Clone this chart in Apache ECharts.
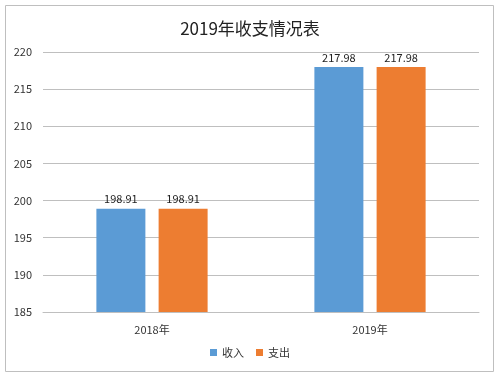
<!DOCTYPE html>
<html>
<head>
<meta charset="utf-8">
<script src="https://cdn.jsdelivr.net/npm/echarts@6/dist/echarts.min.js"></script>
<style>
  html, body { margin: 0; padding: 0; background: #fff; }
  #container { width: 500px; height: 377px; }
</style>
</head>
<body>
<div id="container"></div>
<script>
var dom = document.getElementById('container');
var myChart = echarts.init(dom, null, { renderer: 'canvas' });

const categories = ['2018年', '2019年'];
const income = [198.91, 217.98];
const expense = [198.91, 217.98];
const seriesNames = ['收入', '支出'];

const font = '"Noto Sans CJK SC", "DejaVu Sans", sans-serif';

var option = {
  backgroundColor: '#fff',
  animation: false,
  title: {
    text: '2019年收支情况表',
    left: 'center',
    top: 15,
    textStyle: { fontSize: 17, fontWeight: 'normal', color: '#222', fontFamily: font }
  },
  graphic: [{
    type: 'rect',
    shape: { x: 5.5, y: 5.5, width: 488, height: 366 },
    style: { fill: 'none', stroke: '#bfbfbf', lineWidth: 1 },
    silent: true
  }],
  legend: {
    bottom: 14,
    left: 'center',
    itemWidth: 7,
    itemHeight: 7,
    itemGap: 12,
    icon: 'rect',
    textStyle: { fontSize: 11, color: '#333', fontFamily: font },
    data: seriesNames
  },
  grid: { left: 43, right: 21, top: 52, bottom: 65 },
  xAxis: {
    type: 'category',
    data: categories,
    axisLine: { lineStyle: { color: '#bfbfbf' } },
    axisTick: { show: false },
    axisLabel: { fontSize: 11, color: '#333', margin: 12, fontFamily: font }
  },
  yAxis: {
    type: 'value',
    min: 185,
    max: 220,
    interval: 5,
    axisLine: { show: false },
    axisTick: { show: false },
    axisLabel: { fontSize: 11, color: '#333', margin: 11, fontFamily: font },
    splitLine: { lineStyle: { color: '#bfbfbf' } }
  },
  series: [{
    name: seriesNames[0],
    type: 'bar',
    data: income,
    barWidth: 49,
    barGap: '27%',
    itemStyle: { color: '#5b9bd5' },
    label: { show: true, position: 'top', distance: 4, fontSize: 11, color: '#222', fontFamily: font }
  }, {
    name: seriesNames[1],
    type: 'bar',
    data: expense,
    barWidth: 49,
    itemStyle: { color: '#ed7d31' },
    label: { show: true, position: 'top', distance: 4, fontSize: 11, color: '#222', fontFamily: font }
  }]
};

myChart.setOption(option);
window.addEventListener('resize', myChart.resize);
</script>
</body>
</html>
